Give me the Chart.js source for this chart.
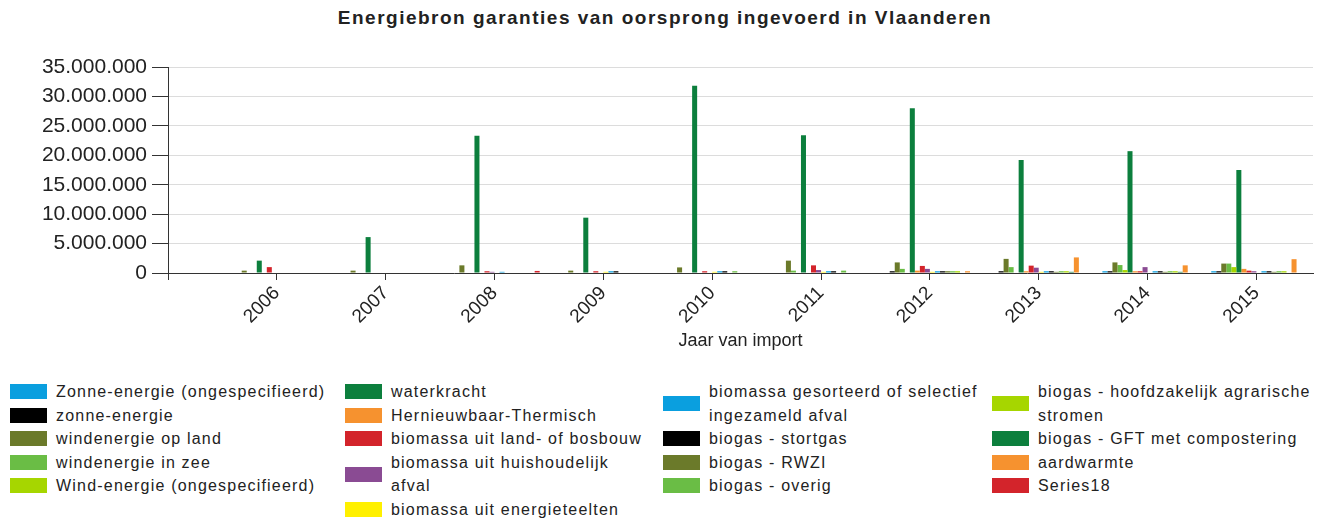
<!DOCTYPE html>
<html>
<head>
<meta charset="utf-8">
<script src="https://cdn.jsdelivr.net/npm/chart.js@4"></script>
<style>
  body { margin: 0; background: #fff; }
  #wrap { position: relative; width: 1330px; height: 518px; overflow: hidden; font-family: "Liberation Sans", Arial, sans-serif; color: #222; }
  #title { position: absolute; left: 0; width: 1330px; top: 6px; text-align: center; font-weight: bold; font-size: 19px; letter-spacing: 1.5px; line-height: 24px; }
  #chart { position: absolute; left: 0; top: 0; }
  .col { position: absolute; top: 380px; }
  .item { display: flex; align-items: center; font-size: 16px; letter-spacing: 1.2px; line-height: 23.5px; }
  .sw { width: 37px; height: 15px; flex: none; margin-right: 9px; }
</style>
</head>
<body>
<div id="wrap">
  <div id="title">Energiebron garanties van oorsprong ingevoerd in Vlaanderen</div>
  <canvas id="chart" width="1330" height="356"></canvas>
  <div id="legend"></div>
</div>
<script>
// Jaar van import
const years = [2006, 2007, 2008, 2009, 2010, 2011, 2012, 2013, 2014, 2015];

// Energiebronnen (legend order)
const sources = [
  "Zonne-energie (ongespecifieerd)",
  "zonne-energie",
  "windenergie op land",
  "windenergie in zee",
  "Wind-energie (ongespecifieerd)",
  "waterkracht",
  "Hernieuwbaar-Thermisch",
  "biomassa uit land- of bosbouw",
  "biomassa uit huishoudelijk afval",
  "biomassa uit energieteelten",
  "biomassa gesorteerd of selectief ingezameld afval",
  "biogas - stortgas",
  "biogas - RWZI",
  "biogas - overig",
  "biogas - hoofdzakelijk agrarische stromen",
  "biogas - GFT met compostering",
  "aardwarmte",
  "Series18"
];

const colors = [
  "#0a9fdf", "#000000", "#6b7a2a", "#6abd45", "#a6d600", "#0c7f3d",
  "#f6922f", "#d3242b", "#8a4b93", "#fff000", "#0a9fdf", "#000000",
  "#6b7a2a", "#6abd45", "#a6d600", "#0c7f3d", "#f6922f", "#d3242b"
];

// values in garanties (millions)
const zonneOngesp   = [0, 0, 0, 0, 0, 0, 0, 0, 0.3, 0.3];
const zonne         = [0, 0, 0, 0, 0, 0, 0.3, 0.3, 0.3, 0.3];
const windLand      = [0.4, 0.4, 1.3, 0.4, 0.95, 2.1, 1.8, 2.4, 1.8, 1.6];
const windZee       = [0, 0, 0, 0, 0, 0.4, 0.7, 1.0, 1.35, 1.6];
const windOngesp    = [0, 0, 0, 0, 0, 0, 0, 0, 0.5, 1.0];
const waterkracht   = [2.1, 6.1, 23.3, 9.4, 31.8, 23.4, 28.0, 19.2, 20.7, 17.5];
const thermisch     = [0, 0, 0, 0, 0, 0, 0.4, 0.3, 0.3, 0.7];
const bioLand       = [1.0, 0, 0.3, 0.3, 0.3, 1.3, 1.2, 1.25, 0.3, 0.4];
const bioHuis       = [0, 0, 0.2, 0, 0, 0.5, 0.7, 0.9, 1.0, 0.3];
const bioTeelt      = [0, 0, 0, 0.2, 0.2, 0.2, 0.2, 0.2, 0, 0];
const bioGesort     = [0, 0, 0.2, 0.3, 0.3, 0.3, 0.3, 0.3, 0.3, 0.3];
const stortgas      = [0, 0, 0, 0.3, 0.3, 0.3, 0.3, 0.3, 0.3, 0.3];
const rwzi          = [0, 0, 0, 0, 0, 0, 0.3, 0.2, 0.2, 0.2];
const biogasOverig  = [0, 0, 0, 0, 0.3, 0.4, 0.3, 0.3, 0.3, 0.3];
const biogasAgr     = [0, 0, 0, 0, 0, 0, 0.3, 0.3, 0.3, 0.3];
const biogasGft     = [0, 0, 0, 0, 0, 0, 0, 0.2, 0.2, 0];
const aardwarmte    = [0, 0, 0, 0, 0, 0, 0.3, 2.65, 1.3, 2.35];
const series18      = [0, 0, 0.35, 0, 0, 0, 0, 0, 0, 0];

const seriesValues = [
  zonneOngesp, zonne, windLand, windZee, windOngesp, waterkracht, thermisch,
  bioLand, bioHuis, bioTeelt, bioGesort, stortgas, rwzi, biogasOverig,
  biogasAgr, biogasGft, aardwarmte, series18
];

const yTicks = [0, 5e6, 10e6, 15e6, 20e6, 25e6, 30e6, 35e6];

function fmt(v) {
  return String(Math.round(v)).replace(/\B(?=(\d{3})+(?!\d))/g, ".");
}

const datasets = sources.map((name, i) => ({
  label: name,
  data: seriesValues[i].map(v => v * 1e6),
  backgroundColor: colors[i],
  borderWidth: 0,
  barPercentage: 1.0,
  categoryPercentage: 0.83
}));

const tickFont = { family: "'Liberation Sans', Arial, sans-serif", size: 21 };

new Chart(document.getElementById("chart").getContext("2d"), {
  type: "bar",
  data: { labels: years, datasets: datasets },
  options: {
    responsive: false,
    animation: false,
    devicePixelRatio: 1,
    layout: { padding: { top: 67, right: 17, left: 0, bottom: 0 } },
    plugins: { legend: { display: false }, tooltip: { enabled: false } },
    scales: {
      x: {
        type: "linear",
        offset: false,
        min: years[0] - 1,
        max: years[years.length - 1] + 0.52,
        afterBuildTicks: (scale) => {
          scale.ticks = [years[0] - 1].concat(years).map(v => ({ value: v }));
        },
        afterFit: (scale) => { scale.height = 83; },
        grid: { offset: false, drawOnChartArea: false, drawTicks: true, tickLength: 7, tickColor: "#333" },
        border: { color: "#333", width: 1 },
        ticks: {
          color: "#222",
          font: { family: "'Liberation Sans', Arial, sans-serif", size: 19 },
          minRotation: 45,
          maxRotation: 45,
          padding: 2,
          autoSkip: false,
          callback: (v) => (years.includes(v) ? String(v) : "")
        },
        title: {
          display: true,
          text: "Jaar van import",
          color: "#222",
          font: { family: "'Liberation Sans', Arial, sans-serif", size: 18 },
          padding: { top: 0, bottom: 4 }
        }
      },
      y: {
        min: 0,
        max: 35e6,
        afterBuildTicks: (scale) => { scale.ticks = yTicks.map(v => ({ value: v })); },
        afterFit: (scale) => { scale.width = 168; },
        grid: { color: "#dcdcdc", lineWidth: 1, drawTicks: true, tickLength: 16, tickColor: "#333" },
        border: { color: "#333", width: 1 },
        ticks: { color: "#222", font: tickFont, padding: 5, callback: (v) => fmt(v) }
      }
    }
  }
});

// HTML legend, column-major like the original
const legendCols = [[0, 1, 2, 3, 4], [5, 6, 7, 8, 9], [10, 11, 12, 13], [14, 15, 16, 17]];
const colLeft = [10, 345, 663, 992];
const colTextWidth = [300, 258, 275, 285];
const legend = document.getElementById("legend");
legendCols.forEach((idxs, c) => {
  const col = document.createElement("div");
  col.className = "col";
  col.style.left = colLeft[c] + "px";
  idxs.forEach(i => {
    const item = document.createElement("div");
    item.className = "item";
    const sw = document.createElement("span");
    sw.className = "sw";
    sw.style.background = colors[i];
    const txt = document.createElement("span");
    txt.style.width = colTextWidth[c] + "px";
    txt.textContent = sources[i];
    item.appendChild(sw);
    item.appendChild(txt);
    col.appendChild(item);
  });
  legend.appendChild(col);
});
</script>
</body>
</html>
